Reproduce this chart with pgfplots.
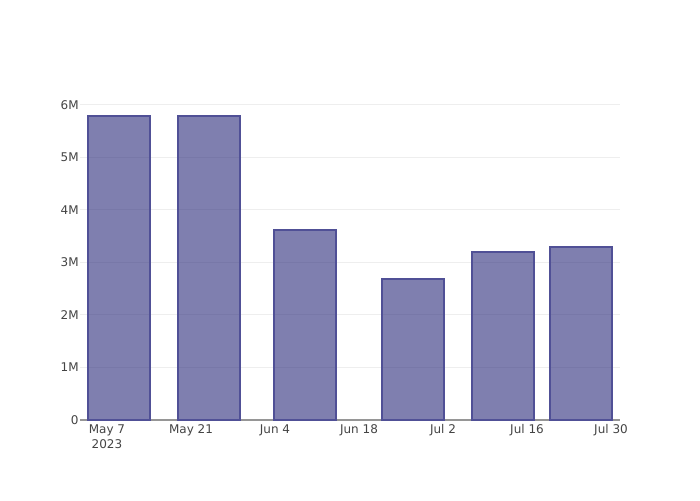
\documentclass[border=0pt]{standalone}
\usepackage{fontspec}
\setmainfont{DejaVu Sans}
\usepackage{pgfplots}
\pgfplotsset{compat=1.18}
\definecolor{barfill}{RGB}{42,42,122}
\definecolor{baredge}{RGB}{80,80,150}
\definecolor{tickgray}{RGB}{68,68,68}
\definecolor{gridgray}{RGB}{238,238,238}
\definecolor{axisgray}{RGB}{150,150,150}
\begin{document}
\begin{tikzpicture}
\useasboundingbox (-60pt,-60pt) rectangle (465pt,315pt);
\begin{axis}[
    at={(0,0)}, anchor=south west,
    scale only axis,
    width=405pt, height=240pt,
    xmin=-4.5, xmax=85.5,
    ymin=0, ymax=6.095,
    axis x line*=bottom,
    axis y line*=left,
    x axis line style={axisgray, line width=0.75pt, -},
    y axis line style={draw=none},
    xtick={0,14,28,42,56,70,84},
    xticklabels={{May 7\\2023},May 21,Jun 4,Jun 18,Jul 2,Jul 16,Jul 30},
    xticklabel style={align=center, font=\fontsize{9pt}{11pt}\selectfont, text=tickgray},
    ytick={0,1,2,3,4,5,6},
    yticklabels={0,1M,2M,3M,4M,5M,6M},
    yticklabel style={font=\fontsize{9pt}{11pt}\selectfont, text=tickgray, xshift=2.5pt},
    major tick length=0pt,
    ymajorgrids,
    grid style={gridgray, line width=0.75pt},
    tick style={draw=none},
]
\addplot[ybar, bar width=10.4, fill=barfill, fill opacity=0.6, draw=baredge, line width=1.5pt]
  coordinates {(2,5.785) (17,5.785) (33,3.62) (51,2.686) (66,3.20) (79,3.30)};
\end{axis}
\end{tikzpicture}
\end{document}
